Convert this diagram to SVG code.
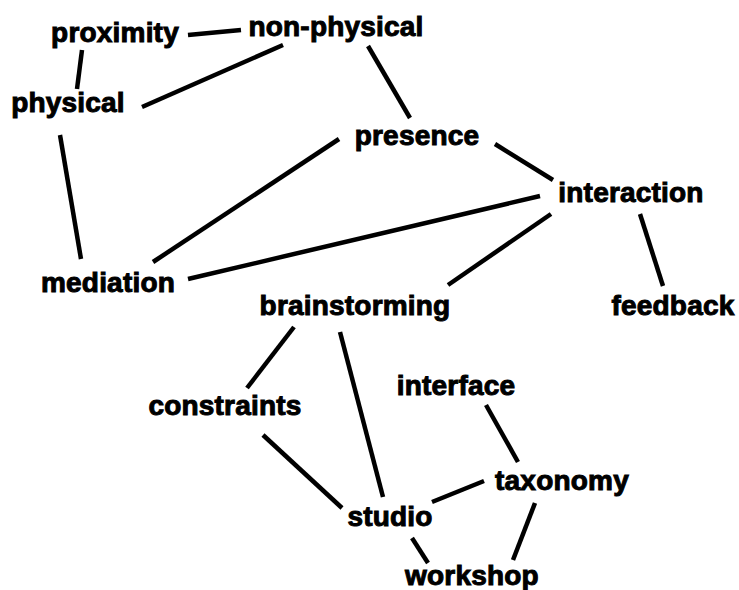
<svg xmlns="http://www.w3.org/2000/svg" width="739" height="590" viewBox="0 0 739 590">
<style>
.n text{font-family:"Liberation Sans",Arial,sans-serif;font-weight:bold;font-size:28px;fill:#000;text-anchor:middle;stroke:#000;stroke-width:1;letter-spacing:0.2px}
#edges line{stroke:#000;stroke-width:4.5;stroke-linecap:butt}
</style>
<rect width="739" height="590" fill="#fff"/>
<g id="edges">
<line x1="188" y1="35" x2="241" y2="30"/>
<line x1="82" y1="50" x2="77" y2="89"/>
<line x1="283" y1="45" x2="142" y2="107"/>
<line x1="368" y1="46" x2="410" y2="118"/>
<line x1="60" y1="135" x2="81" y2="259"/>
<line x1="339" y1="139" x2="153" y2="262"/>
<line x1="495" y1="144" x2="553" y2="180"/>
<line x1="188" y1="279" x2="540" y2="196"/>
<line x1="551" y1="214" x2="448" y2="285"/>
<line x1="640" y1="214" x2="663" y2="286"/>
<line x1="294" y1="327" x2="247" y2="388"/>
<line x1="340" y1="332" x2="383" y2="497"/>
<line x1="263" y1="435" x2="342" y2="508"/>
<line x1="486" y1="405" x2="518" y2="462"/>
<line x1="432" y1="502" x2="484" y2="481"/>
<line x1="412" y1="538" x2="428" y2="563"/>
<line x1="535" y1="503" x2="513" y2="560"/>
</g>
<g id="proximity" class="n"><text x="115" y="42">proximity</text></g>
<g id="non-physical" class="n"><text x="336" y="36">non-physical</text></g>
<g id="physical" class="n"><text x="68" y="112">physical</text></g>
<g id="presence" class="n"><text x="417" y="145">presence</text></g>
<g id="interaction" class="n"><text x="631" y="202">interaction</text></g>
<g id="mediation" class="n"><text x="108" y="292">mediation</text></g>
<g id="brainstorming" class="n"><text x="355" y="315">brainstorming</text></g>
<g id="feedback" class="n"><text x="673" y="315">feedback</text></g>
<g id="constraints" class="n"><text x="225" y="415">constraints</text></g>
<g id="interface" class="n"><text x="456" y="395">interface</text></g>
<g id="taxonomy" class="n"><text x="562" y="490">taxonomy</text></g>
<g id="studio" class="n"><text x="390" y="526">studio</text></g>
<g id="workshop" class="n"><text x="472" y="585">workshop</text></g>
</svg>
